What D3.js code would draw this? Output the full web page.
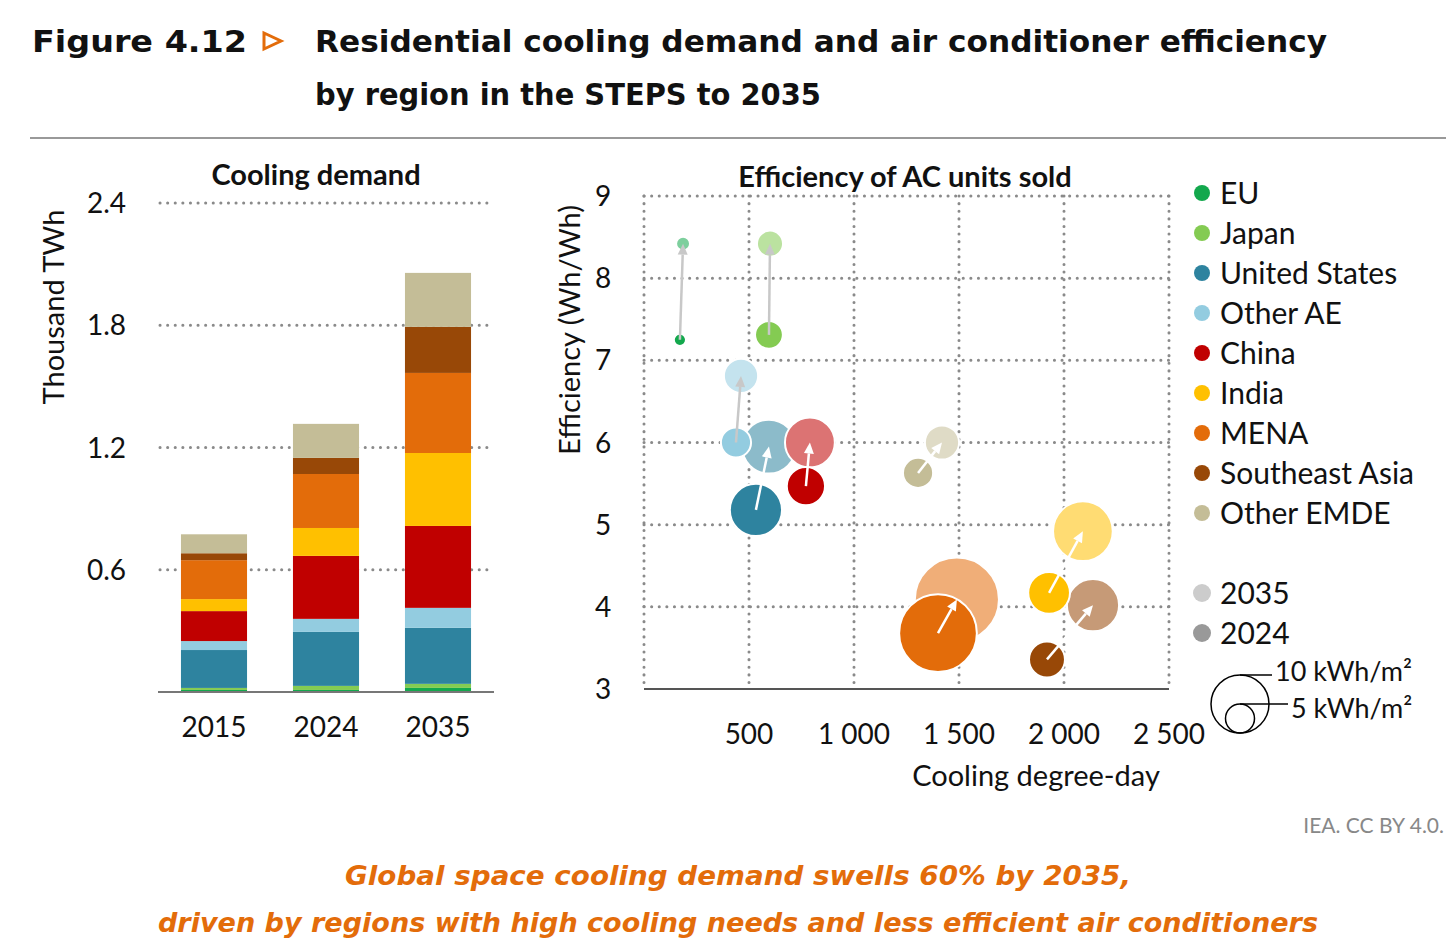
<!DOCTYPE html>
<html lang="en">
<head>
<meta charset="UTF-8">
<title>Figure 4.12</title>
<script src="https://d3js.org/d3.v7.min.js"></script>
<style>
  html, body { margin: 0; padding: 0; background: #fff; }
  text { font-family: Lato, "Open Sans", sans-serif; fill: #111; }
  .grid { stroke: #8a8a8a; stroke-width: 3px; stroke-dasharray: 0.1 7.5; stroke-linecap: round; }
</style>
</head>
<body>
<script>
  // ---- data ----
  const regions = ["EU", "Japan", "United States", "Other AE", "China", "India", "MENA", "Southeast Asia", "Other EMDE"];
  const colors = ["#13a84d", "#84cb52", "#2e839f", "#93cce0", "#c00000", "#ffc000", "#e36c0a", "#984807", "#c4bd97"];
  const years = ["2015", "2024", "2035"];
  // thousand TWh, stacked in region order
  const demand2015 = [0.01, 0.01, 0.186, 0.044, 0.147, 0.059, 0.191, 0.034, 0.093];
  const demand2024 = [0.01, 0.02, 0.265, 0.064, 0.309, 0.137, 0.265, 0.079, 0.167];
  const demand2035 = [0.02, 0.02, 0.275, 0.098, 0.402, 0.358, 0.393, 0.226, 0.265];
  const barTicks = [0.6, 1.2, 1.8, 2.4];
  // cooling degree-days, efficiency (Wh/Wh), intensity (kWh/m2)
  const cdd2024 = [171, 595, 533, 438, 771, 1929, 1400, 1919, 1305];
  const eff2024 = [7.25, 7.31, 5.18, 6.0, 5.47, 4.17, 3.68, 3.36, 5.63];
  const int2024 = [2.1, 4.8, 9.0, 5.2, 6.6, 7.2, 13.4, 6.2, 5.2];
  const cdd2035 = [186, 600, 595, 462, 790, 2090, 1490, 2138, 1419];
  const eff2035 = [8.42, 8.42, 5.95, 6.81, 6.0, 4.92, 4.09, 4.02, 6.0];
  const int2035 = [2.4, 4.5, 9.3, 5.9, 8.6, 10.3, 14.5, 9.0, 5.9];
  const xTicks = [500, 1000, 1500, 2000, 2500];
  const yTicks = [3, 4, 5, 6, 7, 8, 9];
  const greyArrow = ["EU", "Japan", "Other AE"];

  const fmt = d => d3.format(",")(d).replace(",", " ");

  const svg = d3.select("body").append("svg").attr("width", 1456).attr("height", 951);

  // ---- header ----
  svg.append("text").attr("x", 32).attr("y", 52).style("font-family", "DejaVu Sans").style("font-weight", 900)
    .attr("font-size", 31).attr("textLength", 215).attr("lengthAdjust", "spacingAndGlyphs").text("Figure 4.12");
  svg.append("path").attr("d", "M264,33 L281,41 L264,49 Z").attr("fill", "none").attr("stroke", "#e36c0a").attr("stroke-width", 3);
  svg.selectAll(".ttl").data(["Residential cooling demand and air conditioner efficiency", "by region in the STEPS to 2035"])
    .join("text").attr("x", 315).attr("y", (d, i) => 52 + i * 53)
    .style("font-family", "DejaVu Sans").style("font-weight", "bold").attr("font-size", 30)
    .attr("textLength", (d, i) => i ? 506 : 1012).attr("lengthAdjust", "spacingAndGlyphs").text(d => d);
  svg.append("line").attr("x1", 30).attr("x2", 1446).attr("y1", 138).attr("y2", 138).attr("stroke", "#999").attr("stroke-width", 2);

  // ---- bar chart ----
  const yB = d3.scaleLinear().domain([0, 2.4]).range([692, 203]);
  const xB = d3.scaleBand().domain(years).range([158, 494]).paddingInner(0.41).paddingOuter(0.205);
  const bar = svg.append("g");
  bar.selectAll(".g").data(barTicks).join("line").attr("class", "grid")
    .attr("x1", 160).attr("x2", 490).attr("y1", d => yB(d)).attr("y2", d => yB(d));
  bar.selectAll(".tl").data(barTicks).join("text").attr("x", 126).attr("y", d => yB(d) + 10)
    .attr("text-anchor", "end").attr("font-size", 28).text(d => d);
  const stacked = [demand2015, demand2024, demand2035].map((vals, j) => {
    let acc = 0;
    return vals.map((v, i) => { const s = { year: years[j], y0: acc, y1: acc + v, i }; acc += v; return s; });
  }).flat();
  bar.selectAll("rect").data(stacked).join("rect")
    .attr("x", d => xB(d.year)).attr("width", xB.bandwidth())
    .attr("y", d => yB(d.y1)).attr("height", d => yB(d.y0) - yB(d.y1)).attr("fill", d => colors[d.i]);
  bar.append("line").attr("x1", 158).attr("x2", 494).attr("y1", 692).attr("y2", 692).attr("stroke", "#777").attr("stroke-width", 2);
  bar.selectAll(".xl").data(years).join("text").attr("x", d => xB(d) + xB.bandwidth() / 2).attr("y", 737)
    .attr("text-anchor", "middle").attr("font-size", 28).text(d => d);
  bar.append("text").attr("x", 316).attr("y", 185).attr("text-anchor", "middle").style("font-weight", "bold")
    .attr("font-size", 29).text("Cooling demand");
  bar.append("text").attr("transform", "translate(64,307) rotate(-90)").attr("text-anchor", "middle")
    .attr("font-size", 29).text("Thousand TWh");

  // ---- scatter ----
  const xS = d3.scaleLinear().domain([0, 2500]).range([644, 1169]);
  const yS = d3.scaleLinear().domain([3, 9]).range([689, 196]);
  const rS = d3.scaleLinear().domain([0, 10]).range([0, 29]);
  const sc = svg.append("g");
  sc.selectAll(".vx").data([0, ...xTicks]).join("line").attr("class", "grid")
    .attr("x1", d => xS(d)).attr("x2", d => xS(d)).attr("y1", 196).attr("y2", 689);
  sc.selectAll(".hy").data(yTicks.slice(1)).join("line").attr("class", "grid")
    .attr("x1", 644).attr("x2", 1169).attr("y1", d => yS(d)).attr("y2", d => yS(d));
  sc.append("line").attr("x1", 644).attr("x2", 1169).attr("y1", 689).attr("y2", 689).attr("stroke", "#555").attr("stroke-width", 2);
  sc.selectAll(".yl").data(yTicks).join("text").attr("x", 603).attr("y", d => yS(d) + 10)
    .attr("text-anchor", "middle").attr("font-size", 28).text(d => d);
  sc.selectAll(".xl").data(xTicks).join("text").attr("x", d => xS(d)).attr("y", 744)
    .attr("text-anchor", "middle").attr("font-size", 28).text(fmt);
  sc.append("text").attr("x", 1036).attr("y", 786).attr("text-anchor", "middle").attr("font-size", 29).text("Cooling degree-day");
  sc.append("text").attr("transform", "translate(580,330) rotate(-90)").attr("text-anchor", "middle")
    .attr("font-size", 29).text("Efficiency (Wh/Wh)");
  sc.append("text").attr("x", 905).attr("y", 187).attr("text-anchor", "middle").style("font-weight", "bold")
    .attr("font-size", 29).text("Efficiency of AC units sold");

  const pts = regions.map((r, i) => ({ r, i,
    x0: xS(cdd2024[i]), y0: yS(eff2024[i]), r0: rS(int2024[i]),
    x1: xS(cdd2035[i]), y1: yS(eff2035[i]), r1: rS(int2035[i]) }));
  const light = c => d3.interpolateRgb(c, "#fff")(0.45);
  sc.selectAll(".c35").data(pts).join("circle").attr("cx", d => d.x1).attr("cy", d => d.y1).attr("r", d => d.r1)
    .attr("fill", d => light(colors[d.i])).attr("stroke", "#fff").attr("stroke-width", 2);
  sc.selectAll(".c24").data(pts).join("circle").attr("cx", d => d.x0).attr("cy", d => d.y0).attr("r", d => d.r0)
    .attr("fill", d => colors[d.i]).attr("stroke", "#fff").attr("stroke-width", 2);
  pts.forEach(d => {
    const col = greyArrow.includes(d.r) ? "#c8c8c8" : "#fff";
    const ang = Math.atan2(d.y1 - d.y0, d.x1 - d.x0);
    const hx = d.x1, hy = d.y1, L = 11, W = 5;
    const bx = hx - L * Math.cos(ang), by = hy - L * Math.sin(ang);
    sc.append("line").attr("x1", d.x0).attr("y1", d.y0).attr("x2", bx).attr("y2", by)
      .attr("stroke", col).attr("stroke-width", 2.5);
    sc.append("path").attr("fill", col)
      .attr("d", `M${hx},${hy} L${bx - W * Math.sin(ang)},${by + W * Math.cos(ang)} L${bx + W * Math.sin(ang)},${by - W * Math.cos(ang)} Z`);
  });

  // ---- legend ----
  const lg = svg.append("g");
  lg.selectAll(".lc").data(regions).join("circle").attr("cx", 1202).attr("cy", (d, i) => 193 + i * 40).attr("r", 8)
    .attr("fill", (d, i) => colors[i]);
  lg.selectAll(".lt").data(regions).join("text").attr("x", 1220).attr("y", (d, i) => 204 + i * 40)
    .attr("font-size", 30).text(d => d);
  lg.selectAll(".yc").data(["2035", "2024"]).join("circle").attr("cx", 1202).attr("cy", (d, i) => 593 + i * 40).attr("r", 9)
    .attr("fill", (d, i) => i ? "#999" : "#ccc");
  lg.selectAll(".yt").data(["2035", "2024"]).join("text").attr("x", 1220).attr("y", (d, i) => 604 + i * 40)
    .attr("font-size", 30).text(d => d);
  [10, 5].forEach((v, k) => {
    const r = rS(v), cy = 733 - r;
    lg.append("circle").attr("cx", 1240).attr("cy", cy).attr("r", r).attr("fill", "none").attr("stroke", "#000").attr("stroke-width", 1.5);
    const lx = k ? 1288 : 1272;
    lg.append("line").attr("x1", 1240).attr("x2", lx).attr("y1", cy - r).attr("y2", cy - r).attr("stroke", "#000").attr("stroke-width", 1.5);
    lg.append("text").attr("x", lx + 3).attr("y", cy - r + (k ? 14 : 6)).attr("font-size", 27).text(`${v} kWh/m\u00b2`);
  });

  // ---- footer ----
  svg.append("text").attr("x", 1444).attr("y", 833).attr("text-anchor", "end").attr("font-size", 21)
    .style("fill", "#888").text("IEA. CC BY 4.0.");
  svg.selectAll(".cap").data(["Global space cooling demand swells 60% by 2035,",
    "driven by regions with high cooling needs and less efficient air conditioners"])
    .join("text").attr("x", 738).attr("y", (d, i) => 885 + i * 47).attr("text-anchor", "middle")
    .style("font-family", "DejaVu Sans").style("font-style", "italic").style("font-weight", "bold")
    .attr("font-size", 27).attr("textLength", (d, i) => i ? 1160 : 786).attr("lengthAdjust", "spacingAndGlyphs")
    .style("fill", "#e36c0a").text(d => d);
</script>
</body>
</html>
